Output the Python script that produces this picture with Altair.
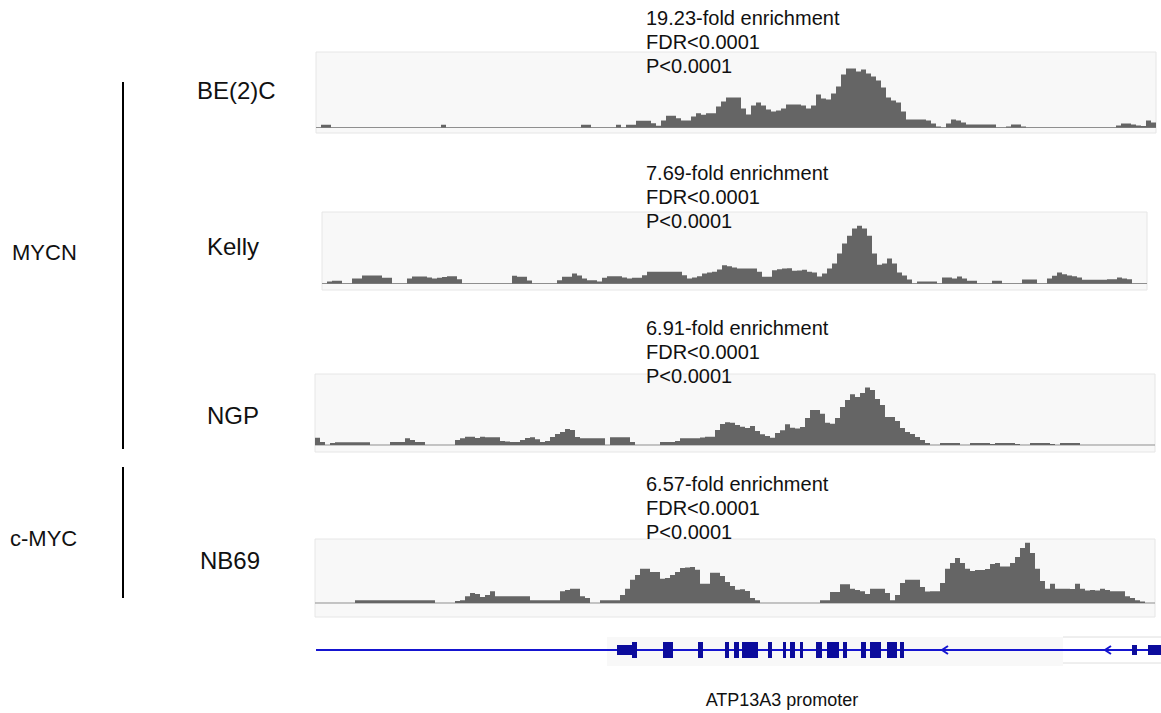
import altair as alt
import pandas as pd

# ---------------- data (signal heights per 50 bp bin) -------------
BE2C = [
    0, 2.7, 2.7, 0, 0, 0, 0, 0, 0, 0,
    0, 0, 0, 0, 0, 0, 0, 0, 0, 0,
    0, 0, 0, 0, 0, 2.7, 0, 0, 0, 0,
    0, 0, 0, 0, 0, 0, 0, 0, 0, 0,
    0, 0, 0, 0, 0, 0, 0, 0, 0, 0,
    0, 0, 0, 2.7, 2.7, 0, 0, 0, 0, 0,
    2.7, 0, 2.7, 2.7, 6.7, 6.7, 6.7, 4.3, 1.7, 7,
    11.7, 11.7, 9.3, 7, 7, 11, 14.3, 12.7, 14.3, 14.3,
    21, 26, 30, 30, 30, 19, 13, 22, 25, 22,
    18, 16, 17, 19, 23, 23, 23, 22, 19, 22,
    33, 29, 28, 34, 41, 53, 59, 59, 56, 58,
    54, 51, 47, 40, 30, 27, 25, 16, 8, 8,
    8, 8, 7, 4, 1, 0, 4, 8, 7, 5,
    3, 3, 3, 3, 3, 3, 0, 0, 1, 3,
    3, 1, 0, 0, 0, 0, 0, 0, 0, 0,
    0, 0, 0, 0, 0, 0, 0, 0, 0, 0,
    2, 4, 4, 3, 2, 1.5, 7, 5,
]
KELLY = [
    0, 2, 2.7, 2.7, 0, 0, 5, 5, 8, 8,
    8, 8, 5.7, 5.7, 0, 0, 0, 5, 7, 7,
    7, 6, 5, 5.7, 6.5, 7.3, 7.3, 4.3, 0, 0,
    0, 0, 0, 0, 0, 0, 0, 0, 7.7, 6.7,
    6.7, 3, 0, 0, 0, 0, 0, 3.3, 6.7, 6.7,
    10, 8, 5, 3.3, 3.3, 2, 5.7, 7.3, 7.3, 7.3,
    6, 5, 5.7, 5.7, 8.3, 11.7, 11.7, 11.7, 11.7, 11.7,
    11.7, 11.7, 8.3, 5, 6, 7.3, 10, 11, 11.7, 14,
    18.3, 17.3, 16, 15, 15, 15, 15, 11.7, 6.7, 6.7,
    13.3, 14.3, 15, 15.3, 12.7, 13, 13.7, 11.7, 11, 7,
    10, 15, 20, 30, 40, 47.7, 55, 57.7, 55, 47.7,
    30, 18.7, 20, 25, 20, 11, 8, 4, 0, 2,
    2, 2, 2, 0, 6, 6, 5, 7, 5, 2.7,
    2.7, 0, 0, 0, 2.7, 2.7, 0, 0, 0, 0,
    4, 4, 4, 0, 0, 5, 7.7, 11, 9.3, 8,
    7.3, 6, 3.7, 3.7, 3.7, 3.7, 3.7, 4.3, 4.3, 6,
    5, 4.3, 0, 0, 0,
]
NGP = [
    7.3, 3, 0, 2, 2.7, 2.7, 2.7, 2.7, 2.7, 2.7,
    2.7, 0, 0, 0, 0, 3, 3, 3, 6.7, 5,
    3, 3, 0, 0, 0, 0, 0, 0, 5, 6.7,
    8.3, 8.3, 7, 8.3, 7.7, 7.7, 7.7, 4, 3.5, 3,
    3, 5, 7, 7.7, 5.7, 3, 4, 8, 11, 13,
    16, 15, 8, 6.7, 6.7, 6.7, 6.7, 6.7, 0, 7.7,
    7.7, 7.7, 7.7, 3, 0, 0, 0, 0, 0, 3,
    3, 3, 4, 6.7, 6.7, 6.7, 6.7, 7.5, 8.3, 8.3,
    15, 21, 22.7, 22.3, 20, 18.3, 17, 19, 14, 10.7,
    9, 7.3, 12, 14.7, 20.7, 17.3, 16.5, 18, 27, 35,
    35, 31.3, 22.3, 21.3, 27, 38, 45, 50.7, 48, 52,
    57.5, 55, 46, 40, 28, 28, 24, 17, 13, 11,
    8, 5, 2, 0, 0, 2, 2, 2, 2, 0,
    0, 2, 2, 2, 2, 1, 2, 2, 2, 2,
    1, 0, 0, 2, 2, 2, 2, 1, 0, 2,
    2, 2, 2, 0, 0, 0, 0, 0, 0, 0,
    0, 0, 0, 0, 0, 0, 0, 0,
]
NB69 = [
    0, 0, 0, 0, 0, 0, 0, 0, 2.7, 2.7,
    2.7, 2.7, 2.7, 2.7, 2.7, 2.7, 2.7, 2.7, 2.7, 2.7,
    2.7, 2.7, 2.7, 2.7, 0, 0, 0, 0, 2, 2.7,
    6.7, 10, 9, 6, 8, 11.7, 6.7, 6.7, 6.7, 6.7,
    6.7, 6.7, 6.7, 2.7, 2.7, 2.7, 2.7, 2.7, 2.7, 11.7,
    13, 14.3, 14.3, 6.7, 5, 0, 0, 2.7, 2.7, 2.7,
    2.7, 8, 14.3, 23.3, 28, 34.3, 34.3, 31, 31, 24.3,
    25, 28, 31, 35, 35.5, 36, 33.3, 19.3, 19.3, 30.3,
    30.3, 27, 21, 17, 13.3, 13.8, 12, 5, 2.7, 0,
    0, 0, 0, 0, 0, 0, 0, 0, 0, 0,
    0, 2.7, 2.7, 11, 11, 18.7, 18.7, 14.3, 13, 11.7,
    9, 14.3, 14.3, 14.3, 10, 2.7, 8, 20, 23.3, 23.3,
    23.3, 16, 11.5, 11.7, 11.7, 20, 34.3, 40, 45, 40,
    34.3, 32, 33, 33, 34, 39, 40, 36.5, 36.5, 40,
    46, 55, 60.3, 50, 34.3, 22, 14.3, 19.3, 14.3, 14.3,
    14.3, 14, 19.3, 14.3, 12.5, 13, 12.5, 14.3, 13, 11.7,
    11.7, 11.7, 6.7, 5, 2.7, 1.5, 0, 0,
]

CELL_LINES = ["BE(2)C", "Kelly", "NGP", "NB69"]
SIGNALS = [BE2C, KELLY, NGP, NB69]
FOLDS = ["19.23-fold enrichment", "7.69-fold enrichment",
         "6.91-fold enrichment", "6.57-fold enrichment"]
FDR_TEXT = "FDR<0.0001"
P_TEXT = "P<0.0001"
GROUPS = ["MYCN", "c-MYC"]
GENE_LABEL = "ATP13A3 promoter"

BIN_BP = 50
SIGNAL_MAX = 60

# gene model (bp, relative to window start)
GENE_SPAN = [0, 8450]
EXON_START = [3160, 3470, 3820, 4090, 4180, 4260, 4520, 4670, 4740, 4840,
              5000, 5110, 5270, 5450, 5540, 5710, 5840]
EXON_END = [3210, 3570, 3870, 4130, 4230, 4420, 4560, 4700, 4790, 4870,
            5060, 5230, 5310, 5500, 5650, 5810, 5880]
UTR_START = [3010, 8160, 8320]
UTR_END = [3160, 8210, 8450]
STRAND_ARROWS = [6290, 7920]

# ---------------- layout (pixels) ----------------
W, H = 1161, 713
FONT = "Liberation Sans"
BAR = "#656565"
BG = "#f8f8f8"
BG_STROKE = "#e6e6e6"
BASE_LINE = "#8f8f8f"
TXT = "#111111"
GENE_LINE = "#1515d0"
EXON = "#0c0c9c"

TRACKS = [
    dict(x0=316, x1=1156, base=127.5, top=52, bottom=133, lab_x=197, lab_y=92, ann_top=9),
    dict(x0=322, x1=1147, base=283.5, top=212, bottom=290, lab_x=207, lab_y=248, ann_top=164),
    dict(x0=315, x1=1155, base=445, top=374, bottom=452, lab_x=207, lab_y=417, ann_top=319),
    dict(x0=315, x1=1155, base=603, top=539, bottom=617, lab_x=200, lab_y=562, ann_top=475),
]
GENE_X = (316, 1161)
GENE_Y = 650

one = pd.DataFrame({"k": [0]})
layers = []

# group bars and labels
for (y1, y2) in [(82, 449), (467, 598)]:
    layers.append(alt.Chart(one).mark_rule(color="#000000", strokeWidth=2).encode(
        x=alt.value(123), y=alt.value(y1), y2=alt.value(y2)))
for g, gx, gy in zip(GROUPS, [12, 10], [253, 539]):
    layers.append(alt.Chart(one).mark_text(
        text=g, font=FONT, fontSize=22, align="left", baseline="middle", color=TXT
    ).encode(x=alt.value(gx), y=alt.value(gy)))

for name, vals, fold, geo in zip(CELL_LINES, SIGNALS, FOLDS, TRACKS):
    n = len(vals)
    pos = [i * BIN_BP for i in range(n)] + [n * BIN_BP]
    sig = list(vals) + [vals[-1]]
    df = pd.DataFrame({"pos": pos, "signal": sig, "zero": [0] * len(pos)})
    xs = alt.Scale(domain=[0, n * BIN_BP], range=[geo["x0"], geo["x1"]], nice=False, zero=False)
    ys = alt.Scale(domain=[0, SIGNAL_MAX], range=[geo["base"], geo["base"] - SIGNAL_MAX],
                   nice=False, zero=False)
    # panel background
    layers.append(alt.Chart(one).mark_rect(fill=BG, stroke=BG_STROKE, strokeWidth=1).encode(
        x=alt.value(geo["x0"]), x2=alt.value(geo["x1"]),
        y=alt.value(geo["top"]), y2=alt.value(geo["bottom"])))
    # baseline
    layers.append(alt.Chart(one).mark_rule(color=BASE_LINE, strokeWidth=1).encode(
        x=alt.value(geo["x0"]), x2=alt.value(geo["x1"]), y=alt.value(geo["base"])))
    # coverage
    layers.append(alt.Chart(df).mark_area(interpolate="step-after", color=BAR).encode(
        x=alt.X("pos:Q", scale=xs, axis=None),
        y=alt.Y("signal:Q", scale=ys, axis=None),
        y2="zero:Q"))
    # cell line label
    layers.append(alt.Chart(one).mark_text(
        text=name, font=FONT, fontSize=24, align="left", baseline="middle", color=TXT
    ).encode(x=alt.value(geo["lab_x"]), y=alt.value(geo["lab_y"])))
    # annotation
    layers.append(alt.Chart(one).mark_text(
        text=[fold, FDR_TEXT, P_TEXT], font=FONT, fontSize=20, lineHeight=24,
        align="left", baseline="top", color=TXT
    ).encode(x=alt.value(646), y=alt.value(geo["ann_top"])))

# ---------------- gene model ----------------
gx = alt.Scale(domain=GENE_SPAN, range=list(GENE_X), nice=False, zero=False)
layers.append(alt.Chart(one).mark_rect(fill="#f8f8f8").encode(
    x=alt.value(607), x2=alt.value(1063), y=alt.value(637), y2=alt.value(666)))
for yy in (637, 663):
    layers.append(alt.Chart(one).mark_rule(color="#dedede", strokeWidth=1).encode(
        x=alt.value(1063), x2=alt.value(1161), y=alt.value(yy)))
span_df = pd.DataFrame({"s": [GENE_SPAN[0]], "e": [GENE_SPAN[1]]})
layers.append(alt.Chart(span_df).mark_rule(color=GENE_LINE, strokeWidth=2).encode(
    x=alt.X("s:Q", scale=gx, axis=None), x2="e:Q", y=alt.value(GENE_Y)))
ex_df = pd.DataFrame({"s": EXON_START, "e": EXON_END})
layers.append(alt.Chart(ex_df).mark_rect(color=EXON).encode(
    x=alt.X("s:Q", scale=gx, axis=None), x2="e:Q",
    y=alt.value(GENE_Y - 8), y2=alt.value(GENE_Y + 8)))
utr_df = pd.DataFrame({"s": UTR_START, "e": UTR_END})
layers.append(alt.Chart(utr_df).mark_rect(color=EXON).encode(
    x=alt.X("s:Q", scale=gx, axis=None), x2="e:Q",
    y=alt.value(GENE_Y - 5), y2=alt.value(GENE_Y + 5)))
arr_df = pd.DataFrame({"p": STRAND_ARROWS})
layers.append(alt.Chart(arr_df).mark_point(
    shape="M0.75,-1L-0.75,0L0.75,1", filled=False, color=GENE_LINE, strokeWidth=2,
    size=64, opacity=1
).encode(x=alt.X("p:Q", scale=gx, axis=None), y=alt.value(GENE_Y)))
layers.append(alt.Chart(one).mark_text(
    text=GENE_LABEL, font=FONT, fontSize=18, align="center", baseline="middle", color=TXT
).encode(x=alt.value(782), y=alt.value(701)))

chart = alt.layer(*layers).resolve_scale(x="independent", y="independent").properties(
    width=W, height=H, padding=0, autosize=alt.AutoSizeParams(type="none"),
    background="white"
).configure_view(stroke=None)

chart.save("out.html", embed_options={"renderer": "svg", "actions": False})
